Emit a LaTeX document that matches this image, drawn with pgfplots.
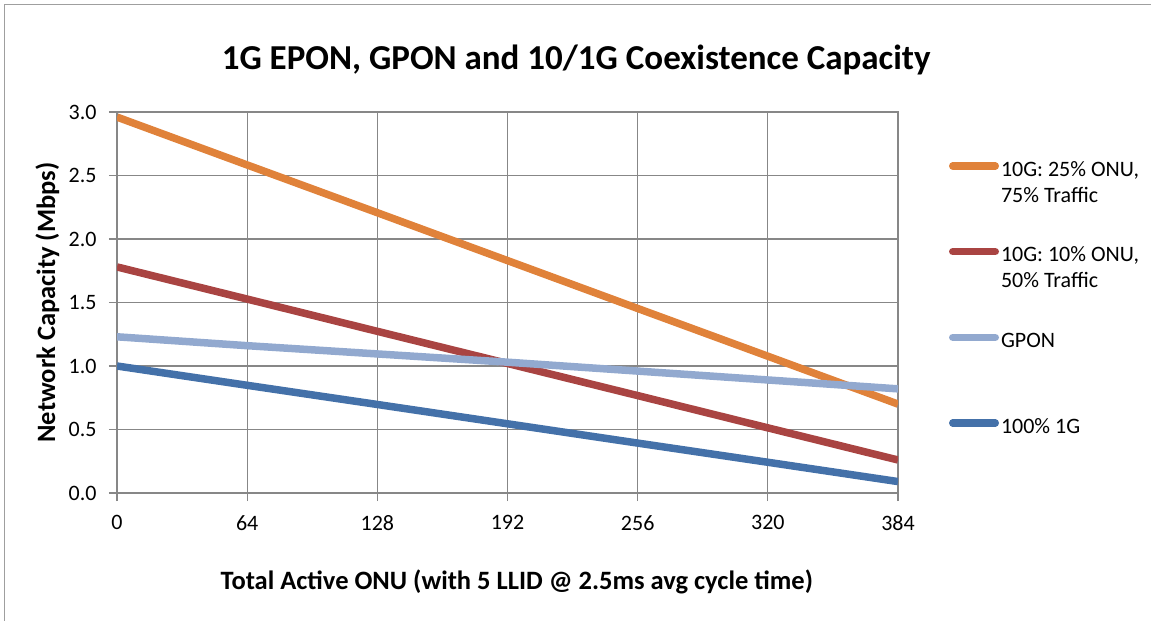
\documentclass[border=0pt]{standalone}
\usepackage{fontspec}
\setmainfont{Carlito}
\usepackage{pgfplots}
\pgfplotsset{compat=1.18}
\definecolor{cOrange}{HTML}{E0823A}
\definecolor{cRed}{HTML}{A94442}
\definecolor{cLBlue}{HTML}{92A9CF}
\definecolor{cBlue}{HTML}{4471A9}
\definecolor{cGrid}{HTML}{878787}
\begin{document}
\begin{tikzpicture}[x=1pt,y=1pt]
\path[use as bounding box] (0pt,0pt) rectangle (1151pt,621pt);
\draw[cGrid!80, line width=1.2pt] (4.5pt,0pt) -- (4.5pt,616.5pt) -- (1151pt,616.5pt);
\begin{axis}[
  at={(117pt,128pt)}, anchor=south west,
  scale only axis, width=781pt, height=381pt,
  xmin=0, xmax=384, ymin=0, ymax=3,
  xtick={0,64,128,192,256,320,384},
  ytick={0,0.5,1,1.5,2,2.5,3},
  y tick label style={/pgf/number format/.cd, fixed, fixed zerofill, precision=1, /tikz/.cd, xshift=-9pt},
  x tick label style={yshift=-11pt},
  /pgf/number format/assume math mode=true,
  tick label style={font=\fontsize{22}{24}\selectfont},
  grid=major,
  major grid style={cGrid, line width=1.3pt},
  axis line style={cGrid, line width=1.3pt},
  tick style={cGrid, line width=1.3pt},
  tick align=outside, major tick length=8pt,
  xtick pos=bottom, ytick pos=left,
  title={1G EPON, GPON and 10/1G Coexistence Capacity},
  title style={font=\bfseries\fontsize{35}{40}\selectfont, at={(axis description cs:0.588,1.121)}, anchor=center},
  xlabel={Total Active ONU (with 5 LLID @ 2.5ms avg cycle time)},
  xlabel style={font=\bfseries\fontsize{26.5}{30}\selectfont, at={(axis description cs:0.512,-0.234)}, anchor=center},
  ylabel={Network Capacity (Mbps)},
  ylabel style={font=\bfseries\fontsize{26.5}{30}\selectfont, at={(axis description cs:-0.089,0.5)}, anchor=center},
  legend style={draw=none, fill=none, inner sep=0pt, outer sep=0pt,
    at={(1.0653,0.8848)}, anchor=north west,
    font=\fontsize{22}{26}\selectfont,
    row sep=36pt, column sep=0pt,
    cells={anchor=west, align=left, inner sep=0pt}},
  legend image code/.code={\draw[#1, line cap=round, line width=7.5pt] (3.75pt,14.8pt) -- (46.25pt,14.8pt);},
  every axis plot/.append style={line width=7.5pt, line join=round},
]
\addplot[cOrange] coordinates {(0,2.96) (64,2.583) (128,2.207) (192,1.83) (256,1.453) (320,1.077) (384,0.70)};
\addlegendentry{\strut 10G: 25\% ONU,\\\strut 75\% Traffic}
\addplot[cRed] coordinates {(0,1.78) (64,1.527) (128,1.273) (192,1.02) (256,0.767) (320,0.513) (384,0.26)};
\addlegendentry{\strut 10G: 10\% ONU,\\\strut 50\% Traffic}
\addplot[cLBlue] coordinates {(0,1.23) (64,1.16) (128,1.095) (192,1.03) (256,0.96) (320,0.89) (384,0.82)};
\addlegendentry{\strut GPON\\\strut}
\addplot[cBlue] coordinates {(0,1.0) (64,0.848) (128,0.697) (192,0.545) (256,0.393) (320,0.242) (384,0.09)};
\addlegendentry{\strut 100\% 1G\\\strut}
\end{axis}
\end{tikzpicture}
\end{document}
